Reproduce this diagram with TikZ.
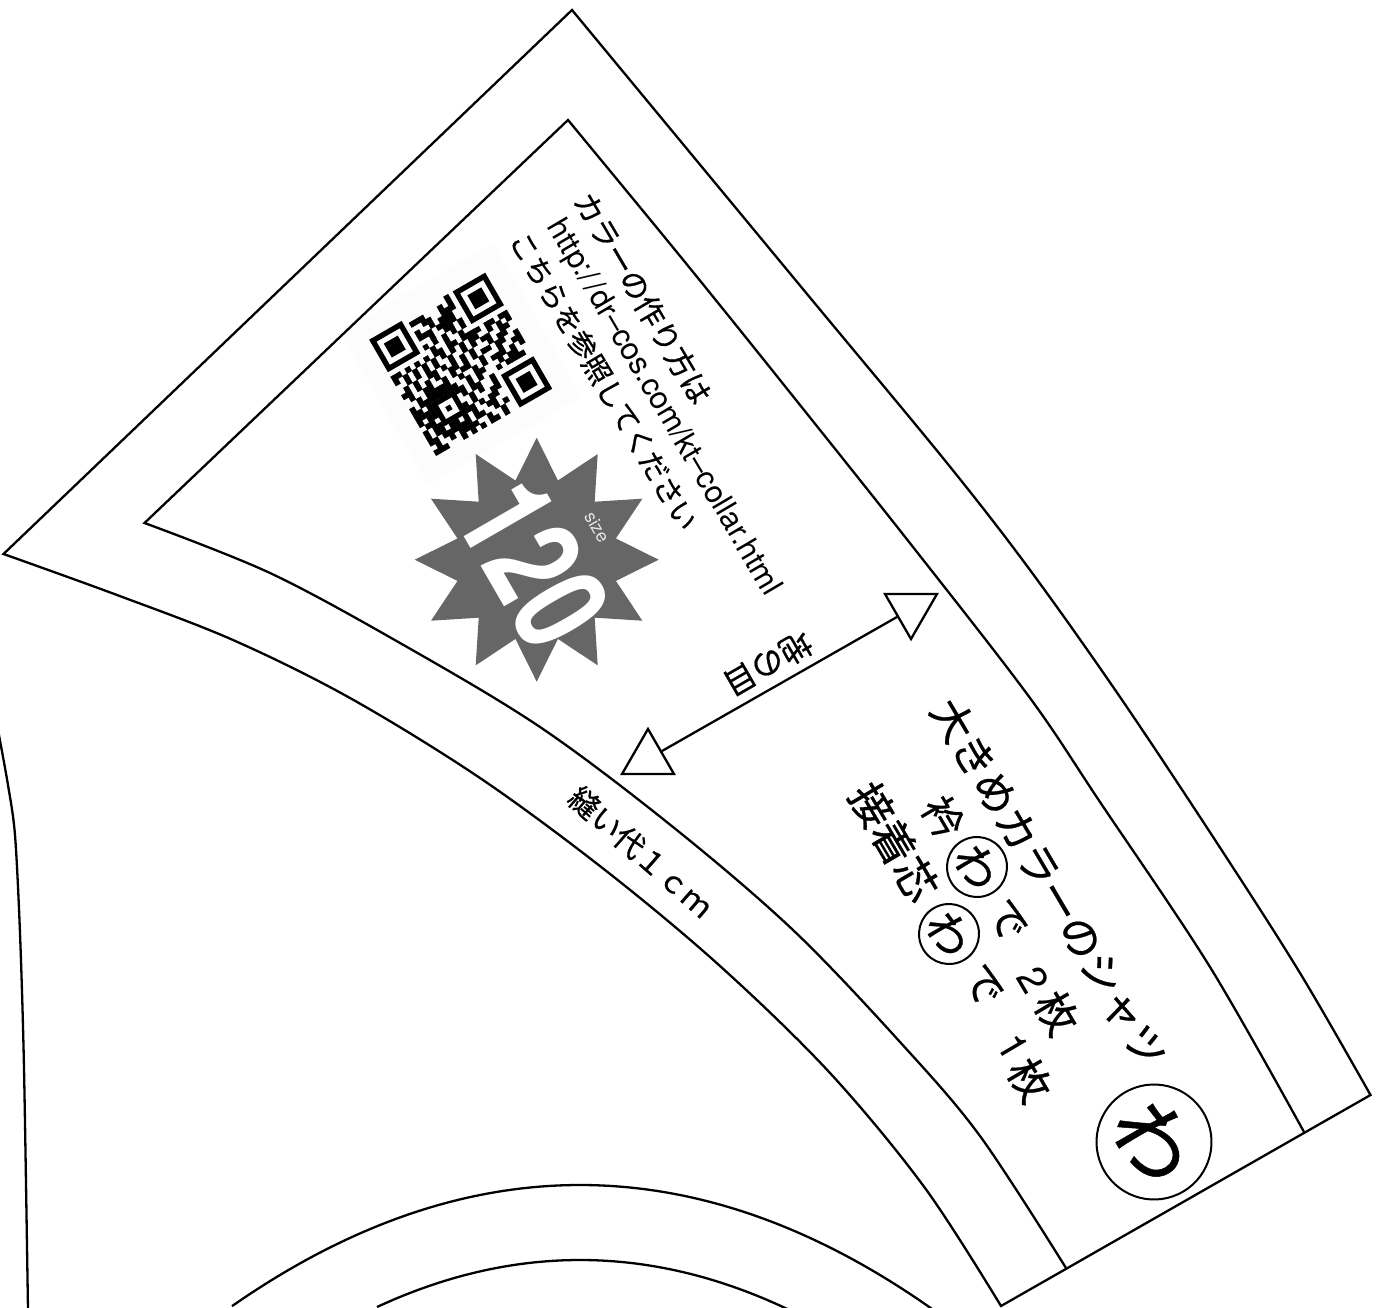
\documentclass[tikz,border=0pt]{standalone}
\usepackage{fontspec}
\usetikzlibrary{shapes.geometric}
\setmainfont{TeX Gyre Heros}
\newfontfamily\jp[FakeBold=0.6]{Noto Sans CJK JP}
\newcommand{\fsz}[1]{\fontsize{#1}{#1}\selectfont}
\definecolor{stargray}{HTML}{666666}
\definecolor{halo}{HTML}{FCFCFC}
\tikzset{
  seam/.style={draw=black,line width=2.3pt,line join=miter},
  rot/.style={rotate=-59.5,inner sep=0pt,text=black},
  jt/.style={rot,font=\jp\fsz{#1}},
  lat/.style={rot,font=\fsz{#1}},
  ring/.style={draw=black,circle,line width=2pt,minimum size=60pt,inner sep=0pt,rotate=-59.5,font=\jp\fsz{44}},
  tri/.style={draw=black,line width=2.3pt,fill=white,regular polygon,regular polygon sides=3,minimum size=60pt,inner sep=0pt},
  qrcell/.style={fill=black,draw=black,line width=.25pt}
}
\begin{document}
\begin{tikzpicture}[x=1pt,y=-1pt]
\useasboundingbox (0,0) rectangle (1377,1308);
% QR code
\begin{scope}[shift={(485.2,272.7)},rotate=-60,x=5.36pt,y=-5.36pt]
  \fill[halo] (-4,-4) rectangle (29,29);
  \foreach \ox/\oy in {0/0,18/0,0/18}{
    \fill[even odd rule] (\ox,\oy) rectangle ++(7,7) (\ox+1,\oy+1) rectangle ++(5,5);
    \fill (\ox+2,\oy+2) rectangle ++(3,3);
  }
  \fill[even odd rule] (16,16) rectangle ++(5,5) (17,17) rectangle ++(3,3);
  \fill (18,18) rectangle ++(1,1);
  \foreach \k in {8,10,12,14,16}{
    \fill (\k,6) rectangle ++(1,1);
    \fill (6,\k) rectangle ++(1,1);
  }
  \foreach \r/\L in {
    0/{8,9,12,13,14},1/{8,10,13,16},2/{9,10,11,14,15,16},3/{8,11,12,15,16},
    4/{8,9,12,13,14,16},5/{10,11,14,15},7/{8,9,12},
    8/{0,1,2,5,8,9,10,13,14,17,18,19,22},
    9/{2,3,4,7,8,11,12,15,19,20,23,24},
    10/{1,2,3,4,5,9,10,14,15,16,20,21,22},
    11/{3,4,5,8,11,12,13,17,18,21,24},
    12/{4,7,8,9,13,15,16,17,20,23,24},
    13/{2,3,10,11,12,14,18,19,22},
    14/{1,2,4,5,8,9,12,13,16,17,20,21,22,24},
    15/{1,4,7,8,11,15,16,19,20,23},
    16/{1,3,4,9,10,13,14,15,21,22,23,24},
    17/{8,11,12,14,15,22,23},
    18/{9,10,11,14,15,21,22,23,24},
    19/{8,12,13,14,15,21,22},
    20/{9,10,13,14,15,22,23},
    21/{8,11,12,15,16,17,18,20,21,22},
    22/{9,10,14,15,17,18,19,20,21,24},
    23/{8,11,12,13,16,17,19,22,23,24},
    24/{8,9,12,15,16,17,18,20,21,22,24}}{
    \foreach \c in \L { \path[qrcell] (\c,\r) rectangle ++(1,1); }
  }
\end{scope}
% outer outline
\path[seam] (3.5,554) -- (572,10)
  -- plot[smooth,tension=.55] coordinates {(572,10) (692,155) (812,300) (947,463) (1030,570) (1120,697) (1217,843) (1300,973) (1370.5,1095)}
  -- (1001,1306)
  -- plot[smooth,tension=.55] coordinates {(1001,1306) (925,1188) (830,1073) (720,966) (605,870) (480,778) (350,698) (233,640) (117,595) (3.5,554)}
  -- cycle;
% inner outline
\path[seam] (1304,1132)
  -- plot[smooth,tension=.55] coordinates {(1304,1132) (1210,967) (1100,802) (1030,698) (913,547) (780,380) (680,256) (568,120)}
  -- (144.5,523)
  -- plot[smooth,tension=.55] coordinates {(144.5,523) (270,573) (400,643) (540,727) (673,827) (793,930) (900,1042) (980,1136) (1066,1268)};
% left edge and bottom arcs
\path[seam] plot[smooth,tension=.5] coordinates {(-2,730) (8,785) (15,835) (20,933) (24,1068) (28,1310)};
\path[seam] plot[domain=-348:357,samples=40,smooth] ({580+\x},{1185+10*(\x/100)*(\x/100)});
\path[seam] plot[domain=-203:212,samples=30,smooth] ({580+\x},{1260+11.4*(\x/100)*(\x/100)});
% star
\fill[stargray] plot[samples at={0,...,23}] ({536.7+(102+20*cos(180*\x))*cos(90+15*\x)},{559.7+(102+20*cos(180*\x))*sin(90+15*\x)}) -- cycle;
\node[rotate=-60,inner sep=0pt,text=white,font=\bfseries\fsz{132},xscale=.74] (num) at (534,563) {120};
\node[rotate=-60,inner sep=0pt,text=white!90!black,font=\fsz{18}] (size) at (597,527) {size};
% top text
\node[jt=30] (t1) at (643,298) {カラーの作り方は};
\node[lat=31] (t2) at (663,408) {http:/\kern3pt/\kern1pt dr–cos.com/kt–collar.html};
\node[jt=28.5] (t3) at (604,381) {こちらを参照してください};
% grain line
\node[tri,shape border rotate=180] (ga) at (911,609) {};
\node[tri] (gb) at (648,759) {};
\draw[line width=2.3pt] (ga) -- (gb);
\node[rotate=210,inner sep=0pt,font=\jp\fsz{32}] (grain) at (768,664) {地の目};
\node[rotate=-41.2,inner sep=0pt,font=\jp\fsz{30}] (seamlabel) at (641,852) {縫い代１ｃｍ};
% lower text
\node[jt=42] (t4) at (1049,883) {大きめカラーのシャツ};
\node[jt=40] (a1) at (943,817) {衿};
\node[ring] (a2) at (977,867) {わ};
\node[jt=40] (a3) at (1007,920) {で};
\node[lat=40] (a4a) at (1033,980) {2};
\node[jt=42] (a4b) at (1057,1013) {枚};
\node[jt=43] (b1) at (894,842) {接着芯};
\node[ring] (b2) at (949,934) {わ};
\node[jt=40] (b3) at (983,985) {で};
\node[lat=40] (b4a) at (1013,1047) {1};
\node[jt=42] (b4b) at (1030,1080) {枚};
\node[ring,minimum size=115pt,font=\jp\fsz{80}] (big) at (1154,1142) {わ};
\end{tikzpicture}
\end{document}
